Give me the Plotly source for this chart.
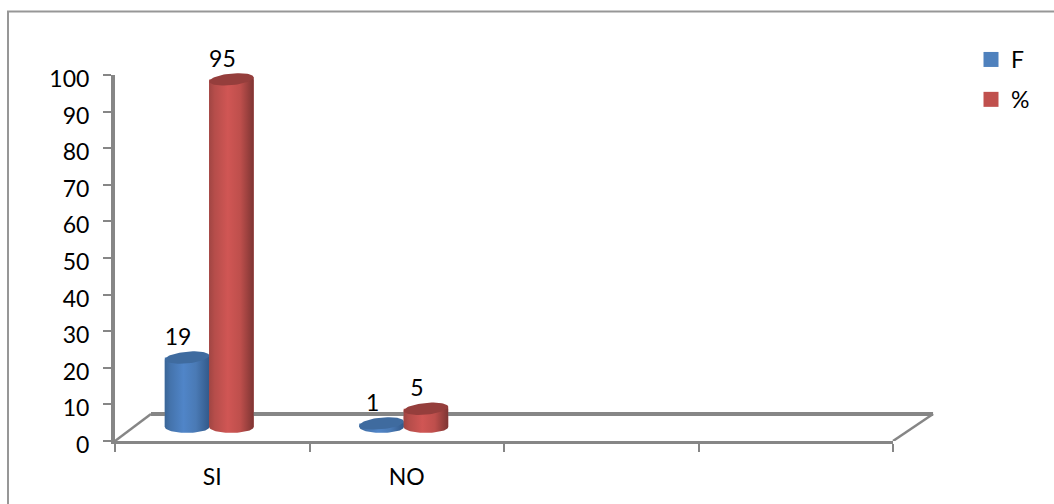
import numpy as np
import plotly.graph_objects as go

categories = ["SI", "NO", " ", "  "]
series_f = [19, 1]
series_pct = [95, 5]
yticks = list(range(0, 101, 10))

W, H = 1054, 504
L, B = 115, 63
X_END, Y_TOP = 893, 75       # end of the drawn axes, pixels
PW, PH = W - L, H - B        # whole plot area, to the top right corner of the page
CAT_PX = (X_END - L) / 4
UNIT_PX = (H - B - Y_TOP) / 100
GREY = "#868686"
FONT = "Lato"
FS = 23

DEPTH_BASE = 3.8
BAR_W = 0.229
OFF_F, OFF_P = -0.244, -0.016
RX = BAR_W / 2
RY = 1.6
TILT = 0.55

BLUE = dict(name="F", main="#4F81BD", top="#3F6B9F",
            grad=[[0, "#3A6596"], [0.12, "#4473AC"], [0.42, "#5085C8"], [0.7, "#4A7AB5"], [1, "#32598A"]])
RED = dict(name="%", main="#C0504D", top="#953E3C",
           grad=[[0, "#A04543"], [0.12, "#B54D4A"], [0.42, "#D05654"], [0.7, "#BE4F4C"], [1, "#7E3533"]])

fig = go.Figure()

# real bars on the category axis
for vals, off, st in ((series_f, OFF_F, BLUE), (series_pct, OFF_P, RED)):
    fig.add_trace(go.Bar(x=categories[:2], y=vals, base=DEPTH_BASE, width=BAR_W, offset=off,
                         marker=dict(color=st["main"], line=dict(width=0)),
                         showlegend=False, hoverinfo="skip", cliponaxis=False))


def line(xs, ys, width):
    fig.add_trace(go.Scatter(x=xs, y=ys, xaxis="x2", yaxis="y2", mode="lines", line=dict(color=GREY, width=width),
                             showlegend=False, hoverinfo="skip"))


# floor of the 3-D box
DX_L, DX_R, DY = 0.185, 0.206, 7.4
line([DX_L, 4 + DX_R], [DY, DY], 4)
line([0, DX_L], [0, DY], 2.5)
line([4, 4 + DX_R], [0, DY], 2.5)

t = np.linspace(0, 2 * np.pi, 73)


def cylinder(cx, v, st):
    top = DEPTH_BASE + v
    tb = np.linspace(np.pi, 2 * np.pi, 37)
    bx = cx + RX * np.cos(tb)
    by = DEPTH_BASE + RY * np.sin(tb)
    xs = list(bx) + [cx + RX, cx - RX, cx - RX]
    ys = list(by) + [top + TILT, top - TILT, DEPTH_BASE]
    fig.add_trace(go.Scatter(x=xs, y=ys, xaxis="x2", yaxis="y2", mode="lines", fill="toself", line=dict(width=0),
                             fillgradient=dict(type="horizontal", colorscale=st["grad"]),
                             showlegend=False, hoverinfo="skip"))
    ex = cx + RX * np.cos(t)
    ey = top + RY * np.sin(t) + TILT * np.cos(t)
    fig.add_trace(go.Scatter(x=ex, y=ey, xaxis="x2", yaxis="y2", mode="lines", fill="toself", fillcolor=st["top"],
                             line=dict(width=0), showlegend=False, hoverinfo="skip"))


for i in range(2):
    cylinder(i + 0.5 + OFF_F + RX, series_f[i], BLUE)
    cylinder(i + 0.5 + OFF_P + RX, series_pct[i], RED)

# data labels
lx, ly, lt = [], [], []
for i in range(2):
    for off, v in ((OFF_F, series_f[i]), (OFF_P, series_pct[i])):
        lx.append(i + 0.5 + off + RX - 0.046)
        ly.append(DEPTH_BASE + v + 5.0)
        lt.append(str(v))
fig.add_trace(go.Scatter(x=lx, y=ly, xaxis="x2", yaxis="y2", mode="text", text=lt, textposition="middle center",
                         textfont=dict(family=FONT, size=FS, color="#000000"),
                         showlegend=False, hoverinfo="skip"))

# legend entries
for st in (BLUE, RED):
    fig.add_trace(go.Scatter(x=[None], y=[None], xaxis="x2", yaxis="y2", mode="markers", name=st["name"],
                             legendgroup=st["name"], marker=dict(symbol="square", size=15, color=st["main"])))


def px(x):
    return (x - L) / PW


def py(y):
    return 1 - y / PH


fl = dict(color="#979797", width=2)
shapes = [
    dict(type="line", xref="paper", yref="paper", x0=px(7), x1=px(W), y0=py(11.5), y1=py(11.5), line=fl),
    dict(type="line", xref="paper", yref="paper", x0=px(8), x1=px(8), y0=py(11.5), y1=py(H), line=fl),
]

fig.update_layout(
    width=W, height=H, margin=dict(l=L, r=0, t=0, b=B, autoexpand=False),
    paper_bgcolor="white", plot_bgcolor="rgba(0,0,0,0)", barmode="overlay", shapes=shapes,
    font=dict(family=FONT, size=FS, color="#000000"),
    xaxis=dict(type="category", categoryorder="array", categoryarray=categories, range=[-0.5, 3.5],
               domain=[0, (X_END - L) / PW], tickson="boundaries", ticks="outside", ticklen=8, tickwidth=1.5,
               tickcolor=GREY, showline=True, linewidth=3, linecolor=GREY, showgrid=False, zeroline=False,
               ticklabelstandoff=13, tickfont=dict(family=FONT, size=FS)),
    yaxis=dict(range=[0, 100], domain=[0, (PH - Y_TOP) / PH], tickvals=yticks, ticks="outside", ticklen=8,
               tickwidth=2, tickcolor=GREY, showline=True, linewidth=4, linecolor=GREY, showgrid=False,
               zeroline=False, ticklabelstandoff=9, ticklabelshift=4, tickfont=dict(family=FONT, size=FS)),
    xaxis2=dict(domain=[0, 1], range=[0, PW / CAT_PX], visible=False, anchor="y2"),
    yaxis2=dict(domain=[0, 1], range=[0, PH / UNIT_PX], visible=False, anchor="x2"),
    legend=dict(x=px(971), y=py(38), xanchor="left", yanchor="top", tracegroupgap=7, bgcolor="rgba(0,0,0,0)",
                font=dict(family=FONT, size=FS)),
)

fig.write_html("out.html", config=dict(displayModeBar=False), post_script="document.body.style.margin='0';")
